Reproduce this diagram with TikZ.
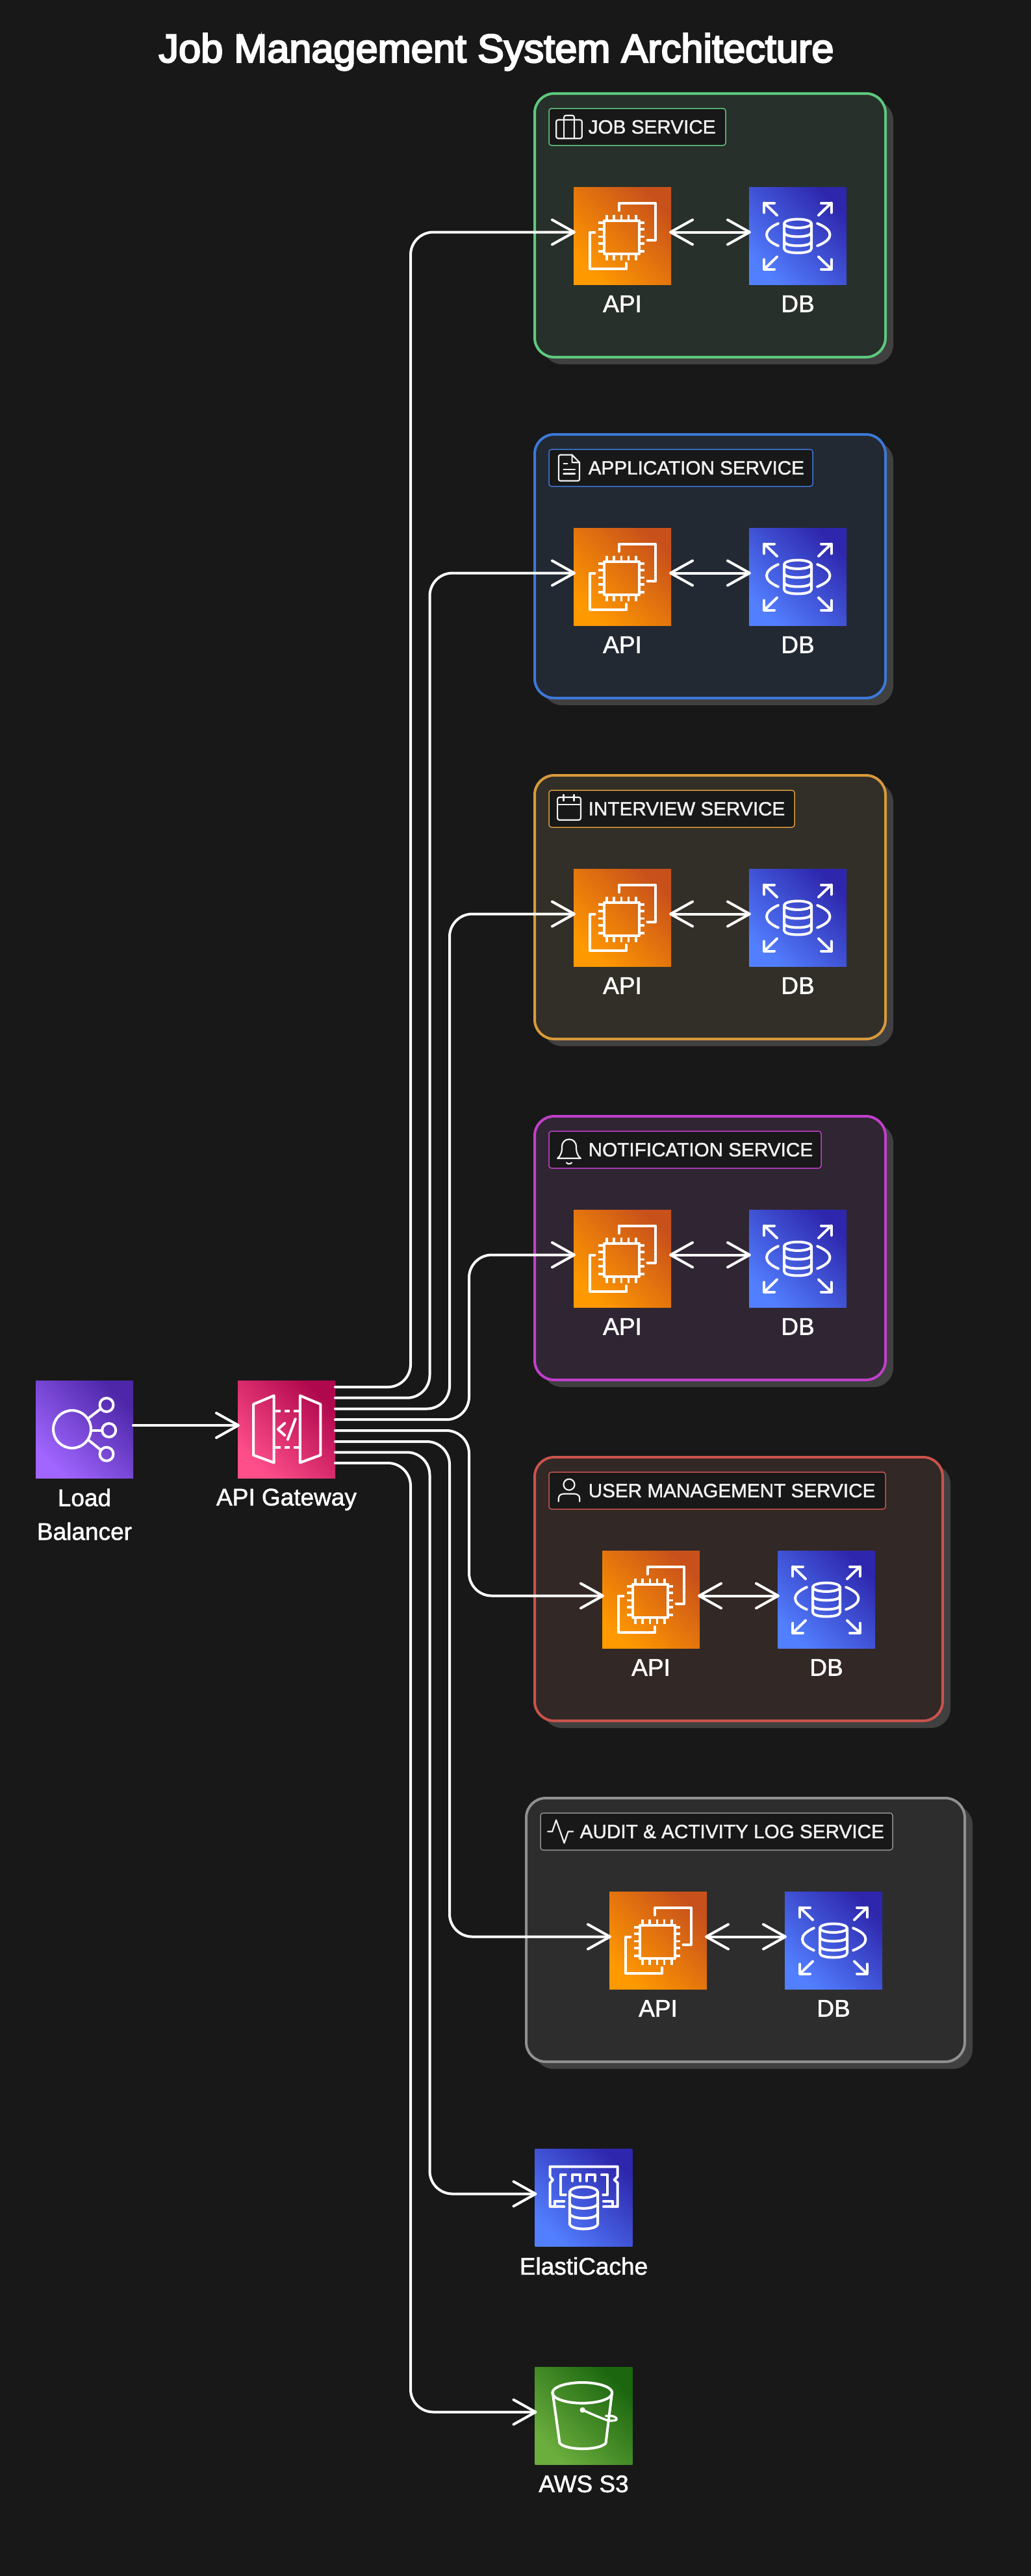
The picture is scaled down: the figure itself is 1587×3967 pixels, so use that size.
\documentclass[tikz,border=0pt]{standalone}
\usepackage{fontspec}
\setmainfont{Liberation Sans}
\newfontfamily\titlefont[FakeBold=4]{Liberation Sans}
\newfontfamily\tagfont[FakeBold=1.5]{Liberation Sans}
\newfontfamily\captionfont[FakeBold=1.5]{Liberation Sans}
\usetikzlibrary{positioning,calc,arrows.meta,shadows}

\definecolor{bgcol}{HTML}{181818}
\definecolor{dropcol}{HTML}{404040}
\definecolor{inkcol}{HTML}{F2F2F2}
\definecolor{jobedge}{HTML}{5EC97F}
\definecolor{jobtint}{HTML}{27302A}
\definecolor{appedge}{HTML}{3C78D8}
\definecolor{apptint}{HTML}{232932}
\definecolor{intedge}{HTML}{D89A3B}
\definecolor{inttint}{HTML}{322F28}
\definecolor{notedge}{HTML}{C13FCB}
\definecolor{nottint}{HTML}{302633}
\definecolor{usredge}{HTML}{C9534C}
\definecolor{usrtint}{HTML}{322826}
\definecolor{audedge}{HTML}{909090}
\definecolor{audtint}{HTML}{2D2D2D}
\definecolor{orangelo}{HTML}{C8511B}
\definecolor{orangehi}{HTML}{FF9900}
\definecolor{bluelo}{HTML}{2E27AD}
\definecolor{bluehi}{HTML}{527FFF}
\definecolor{purplelo}{HTML}{4D27A8}
\definecolor{purplehi}{HTML}{A166FF}
\definecolor{pinklo}{HTML}{B0084D}
\definecolor{pinkhi}{HTML}{FF4F8B}
\definecolor{greenlo}{HTML}{1B660F}
\definecolor{greenhi}{HTML}{6CAE3E}

\tikzset{
    awsicon/.style={%
        rectangle,
        minimum size=150pt,
        inner sep=0pt,
        outer sep=0pt,
        left color=#1lo,
        right color=#1hi,
        shading angle=-45,
    },
}

% icon strokes, drawn round the middle of an icon
\tikzset{
    glyph/.style={draw=white, line width=4pt, line join=round, line cap=round},
    pin/.style={draw=white, line width=3.5pt, line cap=butt},
    ec2mark/.pic={%
        \draw[glyph] (-28,-24) rectangle (26,27);
        \foreach \p in {-24,-12.8,-1.4,9.7,20.8}{%
            \draw[pin] (\p,-33) -- (\p,-24);
            \draw[pin] (\p,27) -- (\p,37);
        }
        \foreach \p in {-20.7,-10.7,1,11.7,23.3}{%
            \draw[pin] (-37,\p) -- (-28,\p);
            \draw[pin] (26,\p) -- (34,\p);
        }
        \draw[glyph] (-5.3,-39.3) -- (-5.3,-50.7) -- (51.2,-50.7) -- (51.2,6) -- (38.5,6);
        \draw[glyph] (-42.5,-6) -- (-49.6,-6) -- (-49.6,50.7) -- (5.7,50.7) -- (5.7,41.7);
    },
    rdsmark/.pic={%
        \draw[glyph] (0,-19.3) ellipse (21 and 6.7);
        \draw[glyph] (-21,-19.3) -- (-21,19.3) .. controls (-21,28.2) and (21,28.2) .. (21,19.3) -- (21,-19.3);
        \draw[glyph] (-21,-5.7) .. controls (-21,3.2) and (21,3.2) .. (21,-5.7);
        \draw[glyph] (-21,8.3) .. controls (-21,17.2) and (21,17.2) .. (21,8.3);
        \draw[glyph] (-30.2,-19.3) .. controls (-54,-9) and (-54,5) .. (-30.2,15);
        \draw[glyph] (30.2,-19.3) .. controls (56,-9) and (56,5) .. (30.2,15);
        \foreach \sx/\sy in {-1/-1,1/-1,-1/1,1/1}{%
            \draw[glyph] (\sx*32,\sy*32) -- (\sx*51.6,\sy*51);
            \draw[glyph] (\sx*51.6,\sy*36) -- (\sx*51.6,\sy*51) -- (\sx*36,\sy*51);
        }
    },
    elbmark/.pic={%
        \draw[glyph] (-19,0) circle (29);
        \draw[glyph] (34,-37.5) circle (10.5);
        \draw[glyph] (37.7,1.5) circle (10.5);
        \draw[glyph] (34,38.2) circle (10.5);
        \draw[glyph] (6,-16.8) -- (25,-31.5);
        \draw[glyph] (10.8,1.5) -- (27.3,1.5);
        \draw[glyph] (6,16.5) -- (25,31.8);
    },
    gatewaymark/.pic={%
        \draw[glyph] (-19.3,-51.8) -- (-19.3,51.5) -- (-51,39.8) -- (-51,-38.5) -- cycle;
        \draw[glyph] (20.8,-51.8) -- (20.8,51.5) -- (52.4,39.8) -- (52.4,-38.5) -- cycle;
        \draw[glyph, line cap=butt, dash pattern=on 8pt off 6pt] (-17,-28.5) -- (19,-28.5);
        \draw[glyph, line cap=butt, dash pattern=on 8pt off 6pt] (-17,28.2) -- (19,28.2);
        \draw[glyph] (-2.8,-9.2) -- (-13.2,0) -- (-2.8,9.2);
        \draw[glyph] (13.7,-15.8) -- (1.9,15.8);
    },
    cachemark/.pic={%
        \draw[glyph] (-30.2,13.6) -- (-51.8,13.6) -- (-51.8,-22.8) -- (-47.5,-27.7) -- (-51.8,-32.7) -- (-51.8,-48)
            -- (52.2,-48) -- (52.2,-32.7) -- (47.2,-27.7) -- (52.2,-22.8) -- (52.2,13.6) -- (30.5,13.6);
        \draw[glyph] (-27.8,-35.4) -- (-35.8,-35.4) -- (-35.8,-4.8) -- (-27.8,-4.8);
        \draw[glyph] (27.5,-35.4) -- (36.5,-35.4) -- (36.5,-4.8) -- (29.8,-4.8);
        \draw[glyph] (-17.5,-25.8) -- (-17.5,-35.4) -- (-5.2,-35.4) -- (-5.2,-25.8);
        \draw[glyph] (4.8,-25.8) -- (4.8,-35.4) -- (17.2,-35.4) -- (17.2,-25.8);
        \draw[glyph] (-44.5,13) -- (-44.5,5) -- (-30.2,5);
        \draw[glyph] (44.8,13) -- (44.8,5) -- (30.5,5);
        \draw[glyph] (0,-8.6) ellipse (21.7 and 8.4);
        \draw[glyph] (-21.7,-8.6) -- (-21.7,39.6) .. controls (-21.7,50.8) and (21.7,50.8) .. (21.7,39.6) -- (21.7,-8.6);
        \draw[glyph] (-21.7,7.9) .. controls (-21.7,19.1) and (21.7,19.1) .. (21.7,7.9);
        \draw[glyph] (-21.7,23.2) .. controls (-21.7,34.4) and (21.7,34.4) .. (21.7,23.2);
    },
    bucketmark/.pic={%
        \draw[glyph] (-2.2,-35.6) ellipse (46 and 15.9);
        \draw[glyph] (-47.8,-35.6) -- (-37,41.7) .. controls (-28,53.5) and (25,53.5) .. (34,41.7) -- (43.5,-35.6);
        \fill[white] (-1.8,-9.2) circle (4.2);
        \draw[glyph, line width=3.5pt] (-1.8,-9.2) .. controls (10,-4) and (28,4) .. (36,6.5) .. controls (44,8.5) and (54,6.5) .. (50,3) .. controls (47,0) and (40,-1) .. (34,0);
    },
}

% small outlines in the service tags
\tikzset{
    tagline/.style={draw=inkcol, line width=2.2pt, line join=round, line cap=round},
    casemark/.pic={%
        \draw[tagline, rounded corners=3pt] (-19.8,-11) rectangle (19.8,17.7);
        \draw[tagline, rounded corners=3pt] (-7.9,17.7) -- (-7.9,-17.7) -- (7.9,-17.7) -- (7.9,17.7);
    },
    docmark/.pic={%
        \draw[tagline, rounded corners=2.5pt] (4.6,-20) -- (-16,-20) -- (-16,20) -- (16,20) -- (16,-8.3);
        \draw[tagline] (4.6,-20) -- (16,-8.3) -- (4.6,-8.3) -- cycle;
        \draw[tagline] (-8.6,-6.7) -- (-2.5,-6.7);
        \draw[tagline] (-8.6,2.7) -- (9,2.7);
        \draw[tagline] (-8.6,9) -- (9,9);
    },
    calmark/.pic={%
        \draw[tagline, rounded corners=3pt] (-17.9,-17.7) rectangle (17.9,17.3);
        \draw[tagline] (-17.9,-6.7) -- (17.9,-6.7);
        \draw[tagline] (-8.6,-21.7) -- (-8.6,-12.3);
        \draw[tagline] (7.5,-21.7) -- (7.5,-12.3);
    },
    bellmark/.pic={%
        \draw[tagline] (-17.9,13.3) -- (17.9,13.3) .. controls (11,8) and (11,0) .. (11,-4)
            .. controls (11,-12) and (6,-16) .. (0,-16) .. controls (-6,-16) and (-11,-12) .. (-11,-4)
            .. controls (-11,0) and (-11,8) .. (-17.9,13.3);
        \draw[tagline] (-4,20) .. controls (-2,22.5) and (2,22.5) .. (4,20);
    },
    usermark/.pic={%
        \draw[tagline] (0,-9.3) circle (8.5);
        \draw[tagline] (-16.2,16.7) -- (-16.2,12) .. controls (-16.2,7) and (-12,5) .. (-8,5)
            -- (8,5) .. controls (12,5) and (16.2,7) .. (16.2,12) -- (16.2,16.7);
    },
    pulsemark/.pic={%
        \draw[tagline] (-19.7,0) -- (-12.9,0) -- (-6.9,-17.7) -- (5.5,17.7) -- (11.5,0) -- (19.3,0);
    },
}

\begin{document}
\begin{tikzpicture}[%
    x=1pt,
    y=-1pt,
    svcbox/.style={%
        rectangle,
        anchor=north west,
        outer sep=0pt,
        rounded corners=30pt,
        line width=4pt,
        minimum height=406pt,
        drop shadow={shadow xshift=12pt, shadow yshift=-11pt, opacity=1, fill=dropcol},
    },
    tagbox/.style={%
        rectangle,
        anchor=north west,
        outer sep=0pt,
        rounded corners=4pt,
        line width=1.5pt,
        fill=bgcol,
        minimum height=57pt,
    },
    tagtext/.style={text=inkcol, inner sep=0pt, font=\tagfont\fontsize{29.7}{36}\selectfont},
    caption/.style={text=white, align=center, font=\captionfont\fontsize{37}{52}\selectfont},
    flow/.style={%
        draw=white,
        line width=4pt,
        line cap=round,
        rounded corners=35pt,
        shorten >=-3pt,
        -{Straight Barb[length=34pt, width=38pt, round]},
    },
    duplex/.style={%
        draw=white,
        line width=4pt,
        line cap=round,
        shorten >=-3pt,
        shorten <=-3pt,
        {Straight Barb[length=34pt, width=38pt, round]}-{Straight Barb[length=34pt, width=38pt, round]},
    },
]
    \fill[bgcol] (0,0) rectangle (1587,3967);
    \useasboundingbox (0,0) rectangle (1587,3967);

    \node[text=white, font=\titlefont\fontsize{61.3}{70}\selectfont] (title) at (764,80) {Job Management System Architecture};

    % entry side
    \node[awsicon=purple] (lb) at (130,2201) {};
    \pic at (lb) {elbmark};
    \node[caption, below=13pt of lb] (lbname) {Load\\Balancer};
    \node[awsicon=pink] (gw) at (441,2201) {};
    \pic at (gw) {gatewaymark};
    \node[caption, below=13pt of gw] (gwname) {API Gateway};
    \draw[flow] ($(lb.east)+(0,-6)$) -- ($(gw.west)+(0,-6)$);

    % one box per service
    \foreach \svc/\ttl/\n/\lft/\rgt/\apix/\tagr/\tagmark in {%
        job/{JOB SERVICE}/0/823/1363/958/1117/casemark,
        app/{APPLICATION SERVICE}/1/823/1363/958/1251/docmark,
        int/{INTERVIEW SERVICE}/2/823/1363/958/1223/calmark,
        not/{NOTIFICATION SERVICE}/3/823/1363/958/1264/bellmark,
        usr/{USER MANAGEMENT SERVICE}/4/823/1451/1002/1363/usermark,
        aud/{AUDIT \& ACTIVITY LOG SERVICE}/5/810/1485/1013/1374/pulsemark%
    }{%
        \pgfmathsetmacro\boxtop{144+525*\n};
        \pgfmathsetmacro\wide{\rgt-\lft};
        \pgfmathsetmacro\tagw{\tagr-\lft-22};
        \node[svcbox, draw=\svc edge, fill=\svc tint, minimum width=\wide pt] (\svc box) at (\lft,\boxtop) {};
        \node[tagbox, draw=\svc edge, minimum width=\tagw pt] (\svc tag) at (\lft+22,\boxtop+23) {};
        \pic at ($(\svc tag.west)+(31,0)$) {\tagmark};
        \node[tagtext, anchor=west] (\svc name) at ($(\svc tag.west)+(60.5,0)$) {\ttl};
        \node[awsicon=orange] (\svc api) at (\apix,\boxtop+219.5) {};
        \pic at (\svc api) {ec2mark};
        \node[awsicon=blue, right=120pt of \svc api] (\svc db) {};
        \pic at (\svc db) {rdsmark};
        \node[caption, below=13pt of \svc api] (\svc apiname) {API};
        \node[caption, below=13pt of \svc db] (\svc dbname) {DB};
        \draw[duplex] ($(\svc api.east)+(0,-6)$) -- ($(\svc db.west)+(0,-6)$);
    }

    % shared stores
    \node[awsicon=blue] (cache) at (898.5,3384.5) {};
    \pic at (cache) {cachemark};
    \node[caption, below=13pt of cache] (cachename) {ElastiCache};
    \node[awsicon=green] (bucket) at (898.5,3720.5) {};
    \pic at (bucket) {bucketmark};
    \node[caption, below=13pt of bucket] (bucketname) {AWS S3};

    % gateway fan-out
    \foreach \dest/\dy/\lane in {%
        jobapi/-65/632,
        appapi/-48.3/661.5,
        intapi/-31.5/692,
        notapi/-14.8/722,
        usrapi/2/722,
        audapi/19/692,
        cache/35.5/661.5,
        bucket/52/632%
    }{%
        \coordinate (out) at ($(gw.east)+(0,\dy)$);
        \coordinate (in) at ($(\dest.west)+(0,-6)$);
        \draw[flow] (out) -- (\lane,0 |- out) -- (\lane,0 |- in) -- (in);
    }
\end{tikzpicture}
\end{document}
